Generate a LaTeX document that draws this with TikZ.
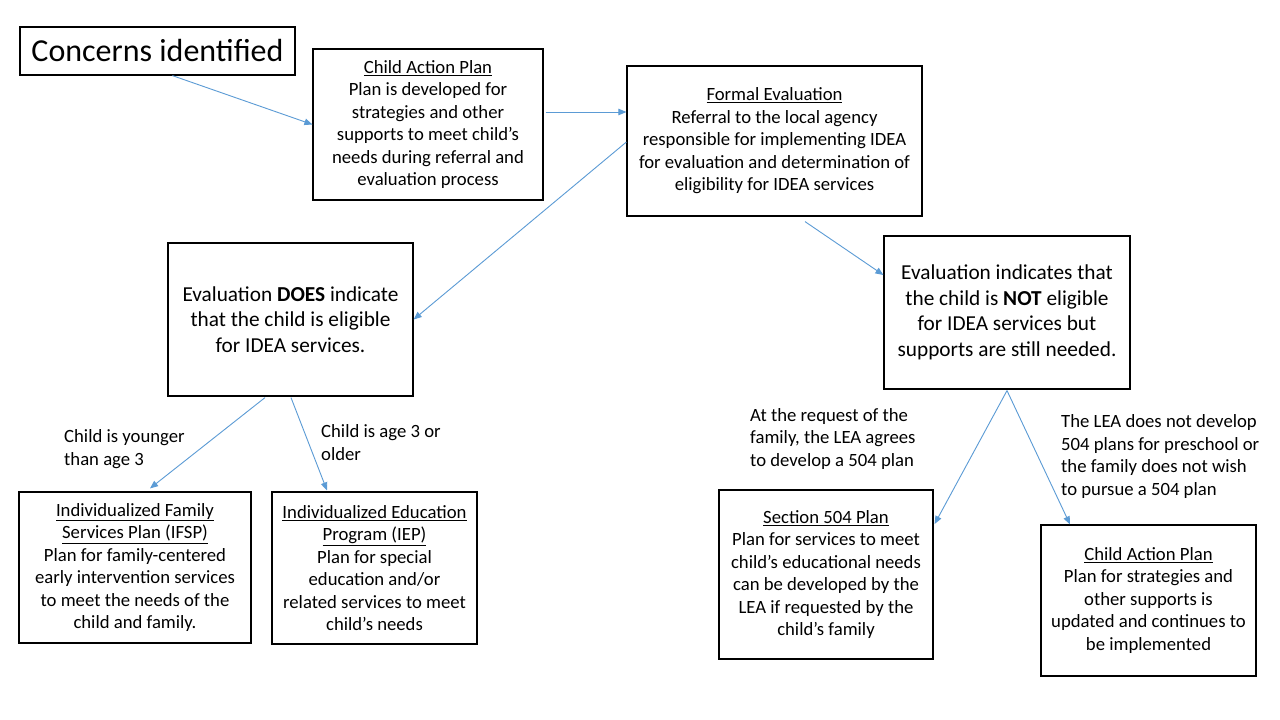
\documentclass[tikz,border=0pt]{standalone}
\usepackage{fontspec}
\setmainfont{Carlito}
\usetikzlibrary{arrows.meta,calc}
\definecolor{arrowblue}{HTML}{5B9BD5}
\newcommand{\bodyfont}{\fontsize{18.7}{22.5}\selectfont}
\newcommand{\bigbodyfont}{\fontsize{21.3}{25.6}\selectfont}
\tikzset{
  box/.style={draw=black, line width=1.2pt, align=center, inner sep=0pt, font=\bodyfont},
  bigbox/.style={box, font=\bigbodyfont},
  arr/.style={draw=arrowblue, line width=0.9pt, -{Triangle[length=8pt,width=6.5pt]}},
  lbl/.style={align=left, anchor=base west, inner sep=0pt, font=\bodyfont}
}
\begin{document}
\begin{tikzpicture}[x=1pt,y=-1pt]
\useasboundingbox[fill=white] (0,0) rectangle (1280,720);

\node[box, minimum width=275, minimum height=48, font=\fontsize{32}{38}\selectfont] (cons) at (157.5,51) {Concerns identified};

\node[box, minimum width=230, minimum height=151] (cap) at (428,124.5)
  {\underline{Child Action Plan}\\Plan is developed for\\strategies and other\\supports to meet child’s\\needs during referral and\\evaluation process};

\node[box, minimum width=295, minimum height=150] (formal) at (774.5,141)
  {\underline{Formal Evaluation}\\Referral to the local agency\\responsible for implementing IDEA\\for evaluation and determination of\\eligibility for IDEA services};

\node[bigbox, minimum width=245, minimum height=153] (does) at (290.5,319.5)
  {Evaluation \textbf{DOES} indicate\\that the child is eligible\\for IDEA services.};

\node[bigbox, minimum width=246, minimum height=153] (not) at (1007,312.5)
  {Evaluation indicates that\\the child is \textbf{NOT} eligible\\for IDEA services but\\supports are still needed.};

\node[box, minimum width=232, minimum height=151] (ifsp) at (135,567.5)
  {\underline{Individualized Family}\\\underline{Services Plan (IFSP)}\\Plan for family-centered\\early intervention services\\to meet the needs of the\\child and family.};

\node[box, minimum width=205, minimum height=152] (iep) at (374.5,568)
  {\underline{Individualized Education}\\\underline{Program (IEP)}\\Plan for special\\education and/or\\related services to meet\\child’s needs};

\node[box, minimum width=214, minimum height=169] (s504) at (826,574.5)
  {\underline{Section 504 Plan}\\Plan for services to meet\\child’s educational needs\\can be developed by the\\LEA if requested by the\\child’s family};

\node[box, minimum width=215, minimum height=151] (cap2) at (1148.5,600.5)
  {\underline{Child Action Plan}\\Plan for strategies and\\other supports is\\updated and continues to\\be implemented};

\node[lbl] (younger) at (64,465) {Child is younger\\than age 3};
\node[lbl] (older) at (321,460) {Child is age 3 or\\older};
\node[lbl] (request) at (750,466) {At the request of the\\family, the LEA agrees\\to develop a 504 plan};
\node[lbl] (nolea) at (1061,495) {The LEA does not develop\\504 plans for preschool or\\the family does not wish\\to pursue a 504 plan};

\draw[arr] ($(cons.south west)+(153,0)$) -- (cap.west);
\draw[arr] ($(cap.east)+(2,-12.5)$) -- ($(formal.west)+(0,-29)$);
\draw[arr] ($(formal.west)+(0,1)$) -- (does.east);
\draw[arr] ($(formal.south)+(30.5,5)$) -- ($(not.west)+(0,-37.5)$);
\draw[arr] ($(does.south)+(-25.5,1)$) -- ($(ifsp.north)+(15,-3)$);
\draw[arr] ($(does.south)+(0.5,1)$) -- ($(iep.north)+(-47.5,-1)$);
\draw[arr] ($(not.south)+(0,1)$) -- ($(s504.east)+(1,-50.5)$);
\draw[arr] ($(not.south)+(0,1)$) -- ($(cap2.north)+(-78.5,0)$);
\end{tikzpicture}
\end{document}
